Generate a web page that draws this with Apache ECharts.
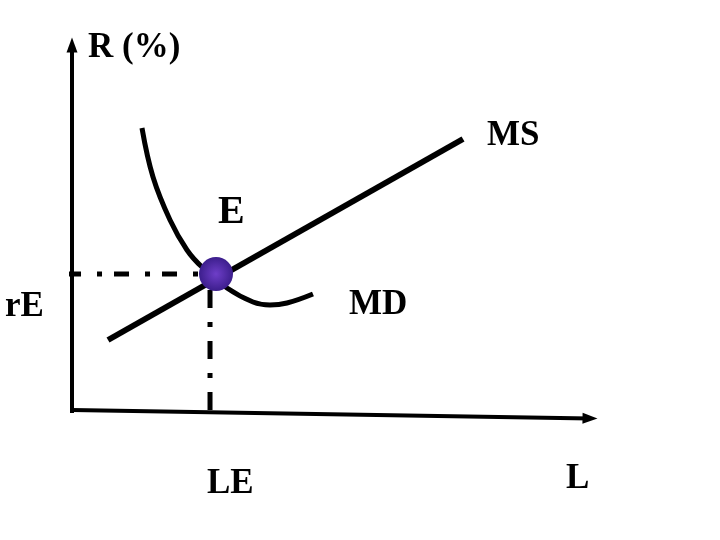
<!DOCTYPE html>
<html>
<head>
<meta charset="utf-8">
<script src="https://cdn.jsdelivr.net/npm/echarts@6/dist/echarts.min.js"></script>
<style>html,body{margin:0;padding:0;background:#fff}#c{width:720px;height:540px}</style>
</head>
<body>
<div id="c"></div>
<script>
// ---- data (model units: L on x, R on y) ----
const yAxisLine = [[0, 0.183], [0, 9.79]];
const xAxisLine = [[0, 0.261], [9.867, 0.04]];
const msCurve = [[0.686, 2.089], [7.448, 7.337]];
const mdCurve = [[1.333, 7.624], [1.543, 6.345], [1.867, 5.222], [2.190, 4.439], [2.476, 3.995],
                 [2.724, 3.760], [2.952, 3.446], [3.448, 3.081], [3.771, 3.003], [4.095, 3.055], [4.590, 3.290]];
const equilibrium = [2.743, 3.812];
const rELevel = 3.812;
const rEStartX = -0.114;
const lEX = 2.629;
const lEBottom = 0.261;
const labels = ['R (%)', 'MS', 'E', 'rE', 'MD', 'LE', 'L'];

const font = 'Liberation Serif';
const chart = echarts.init(document.getElementById('c'));
function txt(t, x, y, size) {
  return { type: 'text', left: x, top: y, style: { text: t, font: 'bold ' + size + 'px "' + font + '"', fill: '#000', verticalAlign: 'middle' } };
}
chart.setOption({
  animation: false,
  grid: { left: 72, top: 37, width: 525, height: 383 },
  xAxis: { type: 'value', min: 0, max: 10, show: false },
  yAxis: { type: 'value', min: 0, max: 10, show: false },
  series: [
    { type: 'line', data: [], silent: true,
      markLine: { silent: true, symbol: ['none', 'triangle'], symbolSize: [11, 15], label: { show: false },
        lineStyle: { color: '#000', width: 4, type: 'solid' }, emphasis: { disabled: true },
        data: [
          [{ coord: yAxisLine[0] }, { coord: yAxisLine[1] }],
          [{ coord: xAxisLine[0] }, { coord: xAxisLine[1] }]
        ] } },
    { type: 'line', data: [[rEStartX, rELevel], equilibrium], clip: false, symbol: 'none', silent: true,
      lineStyle: { color: '#000', width: 5, type: [15, 16, 5, 12], cap: 'butt' } },
    { type: 'line', data: [[lEX, lEBottom], [lEX, rELevel]], clip: false, symbol: 'none', silent: true,
      lineStyle: { color: '#000', width: 5, type: [18, 14, 5, 14], cap: 'butt' } },
    { type: 'line', data: msCurve, symbol: 'none', silent: true, lineStyle: { color: '#000', width: 6 } },
    { type: 'line', data: mdCurve, smooth: 0.4, symbol: 'none', silent: true, lineStyle: { color: '#000', width: 5 } },
    { type: 'scatter', data: [equilibrium], symbolSize: 34, silent: true, z: 5,
      itemStyle: { opacity: 1, color: { type: 'radial', x: 0.5, y: 0.5, r: 0.5,
        colorStops: [{ offset: 0, color: '#6e3ec8' }, { offset: 1, color: '#3c1e8c' }] } } }
  ],
  graphic: [
    txt(labels[0], 88, 30, 35),
    txt(labels[1], 487, 118, 35),
    txt(labels[2], 218, 193, 40),
    txt(labels[3], 5, 289, 35),
    txt(labels[4], 349, 287, 35),
    txt(labels[5], 207, 466, 35),
    txt(labels[6], 566, 461, 35)
  ]
});
</script>
</body>
</html>
